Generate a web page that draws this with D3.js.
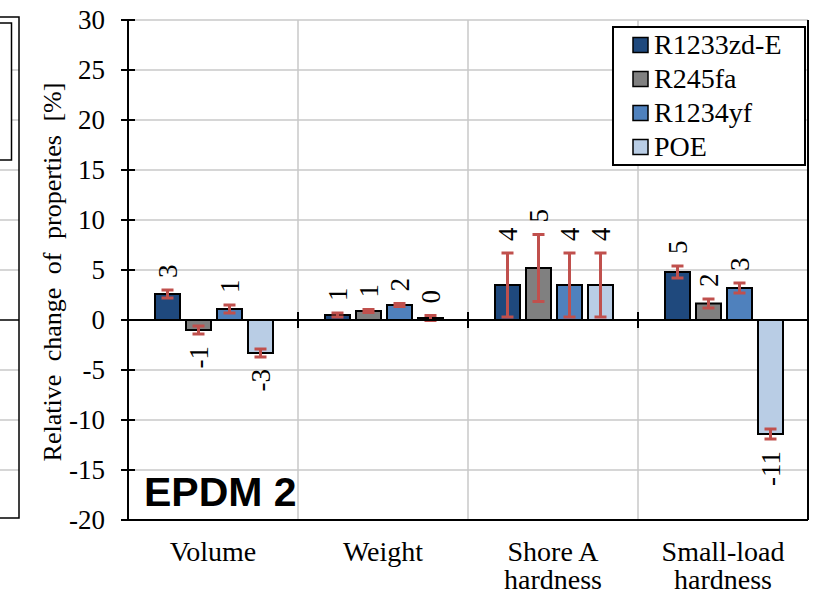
<!DOCTYPE html>
<html>
<head>
<meta charset="utf-8">
<script src="https://cdn.jsdelivr.net/npm/d3@7/dist/d3.min.js"></script>
<style>
  html, body { margin: 0; padding: 0; background: #fff; }
  svg { display: block; }
  svg text { font-family: 'Liberation Serif', Tinos, 'Times New Roman', Times, 'Nimbus Roman', FreeSerif, 'Noto Serif', 'DejaVu Serif', serif; }
  svg text.tag { font-family: 'Liberation Sans', Arial, sans-serif; font-weight: bold; }
</style>
</head>
<body>
<svg class="chart" width="813" height="596"></svg>
<script>
(function () {
  'use strict';

  // Values.
  var categories = ['Volume', 'Weight', 'Shore A|hardness', 'Small-load|hardness'];
  var seriesNames = ['R1233zd-E', 'R245fa', 'R1234yf', 'POE'];
  var seriesColors = ['#1f497d', '#808080', '#4f81bd', '#b9cde5'];

  var r1233zdE = [2.6, 0.5, 3.5, 4.8];
  var r245fa = [-1.0, 0.9, 5.2, 1.65];
  var r1234yf = [1.1, 1.5, 3.5, 3.2];
  var poe = [-3.3, 0.2, 3.5, -11.4];

  var r1233zdEErr = [0.4, 0.2, 3.2, 0.6];
  var r245faErr = [0.4, 0.15, 3.35, 0.45];
  var r1234yfErr = [0.4, 0.15, 3.2, 0.5];
  var poeErr = [0.4, 0.25, 3.2, 0.5];

  var yTicks = [-20, -15, -10, -5, 0, 5, 10, 15, 20, 25, 30];

  var seriesValues = [r1233zdE, r245fa, r1234yf, poe];
  var seriesErrors = [r1233zdEErr, r245faErr, r1234yfErr, poeErr];

  var margin = { top: 20, right: 5, bottom: 76, left: 128 };
  var outerWidth = 813;
  var outerHeight = 596;
  var innerWidth = outerWidth - margin.left - margin.right;
  var innerHeight = outerHeight - margin.top - margin.bottom;

  var locale = d3.formatLocale({
    decimal: '.',
    thousands: ',',
    grouping: [3],
    currency: ['$', ''],
    minus: '-'
  });
  var labelFormat = locale.format('.0f');

  var chart = d3.select('.chart');

  var y = d3.scaleLinear().domain([-20, 30]).range([innerHeight, 0]);
  var x0 = d3.scaleBand().domain(categories).range([0, innerWidth]);
  var x1 = d3.scaleBand().domain(seriesNames).range([27, 145]).paddingInner(6 / 31);

  // Neighbour panel cut off at the left edge.
  var stub = chart.append('g').attr('class', 'stub');
  stub.selectAll('line.grid')
    .data(yTicks.filter(function (t) { return t > -20 && t < 30 && t !== 0; }))
    .enter().append('line')
      .attr('x1', 0).attr('x2', 19)
      .attr('y1', function (d) { return margin.top + y(d); })
      .attr('y2', function (d) { return margin.top + y(d); })
      .attr('stroke', '#c8c8c8').attr('stroke-width', 1.5);
  stub.append('line')
    .attr('x1', 0).attr('x2', 19)
    .attr('y1', margin.top + y(0)).attr('y2', margin.top + y(0))
    .attr('stroke', '#000').attr('stroke-width', 1.5);
  stub.append('rect')
    .attr('x', -5).attr('y', 17).attr('width', 24).attr('height', 501)
    .attr('fill', 'none').attr('stroke', '#000').attr('stroke-width', 1.5);
  stub.append('rect')
    .attr('x', -5).attr('y', 23).attr('width', 16.5).attr('height', 137)
    .attr('fill', '#fff').attr('stroke', '#000').attr('stroke-width', 1.5);

  var g = chart.append('g')
    .attr('transform', 'translate(' + margin.left + ',' + margin.top + ')');

  // Gridlines.
  g.append('g').attr('class', 'hgrid')
    .selectAll('line')
    .data(yTicks.filter(function (t) { return t !== 0 && t !== -20; }))
    .enter().append('line')
      .attr('x1', 0).attr('x2', innerWidth)
      .attr('y1', function (d) { return y(d); })
      .attr('y2', function (d) { return y(d); })
      .attr('stroke', '#c8c8c8').attr('stroke-width', 1.5);

  g.append('g').attr('class', 'vgrid')
    .selectAll('line')
    .data(categories.slice(1))
    .enter().append('line')
      .attr('x1', function (d) { return x0(d); })
      .attr('x2', function (d) { return x0(d); })
      .attr('y1', 0).attr('y2', innerHeight)
      .attr('stroke', '#c8c8c8').attr('stroke-width', 1.5);

  // Right and bottom frame.
  g.append('line')
    .attr('x1', innerWidth).attr('x2', innerWidth)
    .attr('y1', 0).attr('y2', innerHeight)
    .attr('stroke', '#000').attr('stroke-width', 2);
  g.append('line')
    .attr('x1', 0).attr('x2', innerWidth)
    .attr('y1', innerHeight).attr('y2', innerHeight)
    .attr('stroke', '#000').attr('stroke-width', 2);

  // Bars.
  var groups = g.selectAll('.group')
    .data(categories)
    .enter().append('g')
      .attr('class', 'group')
      .attr('transform', function (d) { return 'translate(' + x0(d) + ',0)'; });

  var cells = groups.selectAll('.cell')
    .data(function (d, ci) {
      return seriesNames.map(function (name, si) {
        return {
          name: name,
          color: seriesColors[si],
          value: seriesValues[si][ci],
          err: seriesErrors[si][ci]
        };
      });
    })
    .enter().append('g')
      .attr('class', 'cell');

  cells.append('rect')
    .attr('x', function (d) { return x1(d.name); })
    .attr('width', x1.bandwidth())
    .attr('y', function (d) { return y(Math.max(0, d.value)); })
    .attr('height', function (d) { return Math.abs(y(d.value) - y(0)); })
    .attr('fill', function (d) { return d.color; })
    .attr('stroke', '#000').attr('stroke-width', 2);

  // Zero line and axis ticks on it.
  g.append('line')
    .attr('x1', 0).attr('x2', innerWidth)
    .attr('y1', y(0)).attr('y2', y(0))
    .attr('stroke', '#000').attr('stroke-width', 2);
  g.append('g')
    .selectAll('line')
    .data(categories.slice(1))
    .enter().append('line')
      .attr('x1', function (d) { return x0(d); })
      .attr('x2', function (d) { return x0(d); })
      .attr('y1', y(0) - 8).attr('y2', y(0) + 8)
      .attr('stroke', '#000').attr('stroke-width', 2);

  // Error bars.
  var errColor = '#c0504d';
  var eb = cells.append('g').attr('class', 'err');
  eb.append('line')
    .attr('x1', function (d) { return x1(d.name) + x1.bandwidth() / 2; })
    .attr('x2', function (d) { return x1(d.name) + x1.bandwidth() / 2; })
    .attr('y1', function (d) { return y(d.value + d.err); })
    .attr('y2', function (d) { return y(d.value - d.err); })
    .attr('stroke', errColor).attr('stroke-width', 3);
  [1, -1].forEach(function (s) {
    eb.append('line')
      .attr('x1', function (d) { return x1(d.name) + x1.bandwidth() / 2 - 6; })
      .attr('x2', function (d) { return x1(d.name) + x1.bandwidth() / 2 + 6; })
      .attr('y1', function (d) { return y(d.value + s * d.err); })
      .attr('y2', function (d) { return y(d.value + s * d.err); })
      .attr('stroke', errColor).attr('stroke-width', 3);
  });

  // Data labels, rotated, just beyond the error bar end.
  cells.append('text')
    .attr('transform', function (d) {
      var cx = x1(d.name) + x1.bandwidth() / 2;
      var cy = d.value >= 0 ? y(d.value + d.err) - 12 : y(d.value - d.err) + 12;
      return 'translate(' + cx + ',' + cy + ') rotate(-90)';
    })
    .attr('text-anchor', function (d) { return d.value >= 0 ? 'start' : 'end'; })
    .attr('dominant-baseline', 'central')
    .attr('font-size', 27)
    .text(function (d) { return labelFormat(d.value); });

  // Y axis.
  var yAxis = g.append('g').attr('class', 'y axis');
  yAxis.append('line')
    .attr('x1', 0).attr('x2', 0)
    .attr('y1', 0).attr('y2', innerHeight)
    .attr('stroke', '#000').attr('stroke-width', 2);
  var yTick = yAxis.selectAll('.tick')
    .data(yTicks)
    .enter().append('g')
      .attr('class', 'tick')
      .attr('transform', function (d) { return 'translate(0,' + y(d) + ')'; });
  yTick.append('line')
    .attr('x1', -7).attr('x2', 7)
    .attr('stroke', '#000').attr('stroke-width', 2);
  yTick.append('text')
    .attr('x', -23)
    .attr('dy', '0.34em')
    .attr('text-anchor', 'end')
    .attr('font-size', 27)
    .text(function (d) { return locale.format('d')(d); });

  // Category labels.
  g.selectAll('.cat')
    .data(categories)
    .enter().append('text')
      .attr('class', 'cat')
      .attr('text-anchor', 'middle')
      .attr('font-size', 28)
      .attr('x', function (d) { return x0(d) + x0.bandwidth() / 2; })
      .attr('y', innerHeight + 41)
      .selectAll('tspan')
      .data(function (d) { return d.split('|'); })
      .enter().append('tspan')
        .attr('x', function () { var p = this.parentNode.__data__; return x0(p) + x0.bandwidth() / 2; })
        .attr('dy', function (d, i) { return i === 0 ? 0 : 28; })
        .text(function (d) { return d; });

  // Y axis title.
  chart.append('text')
    .attr('transform', 'translate(61,272) rotate(-90)')
    .attr('text-anchor', 'middle')
    .attr('font-size', 26)
    .attr('word-spacing', 7)
    .text('Relative change of properties [%]');

  // Panel tag.
  g.append('text')
    .attr('class', 'tag')
    .attr('x', 16)
    .attr('y', innerHeight - 14)
    .attr('font-size', 41)
    .text('EPDM 2');

  // Legend.
  var legend = chart.append('g').attr('class', 'legend');
  legend.append('rect')
    .attr('x', 613).attr('y', 27).attr('width', 192).attr('height', 138)
    .attr('fill', '#fff').attr('stroke', '#000').attr('stroke-width', 2);
  var item = legend.selectAll('.item')
    .data(seriesNames)
    .enter().append('g')
      .attr('class', 'item')
      .attr('transform', function (d, i) { return 'translate(633,' + (45 + i * 34) + ')'; });
  item.append('rect')
    .attr('x', 0).attr('y', -7.5).attr('width', 15).attr('height', 15)
    .attr('fill', function (d, i) { return seriesColors[i]; })
    .attr('stroke', '#000').attr('stroke-width', 1.5);
  item.append('text')
    .attr('x', 21).attr('y', 9)
    .attr('font-size', 28)
    .text(function (d) { return d; });
}());
</script>
</body>
</html>
